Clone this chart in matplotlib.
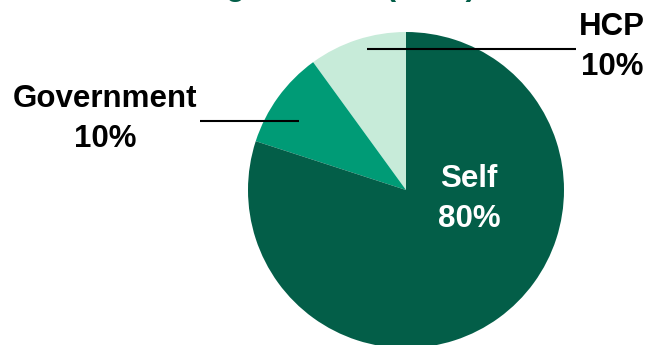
import matplotlib
matplotlib.use("Agg")
import matplotlib.pyplot as plt

# Who covers the cost
payers = ["HCP", "Government", "Self"]
shares = [10, 10, 80]
colors = ["#C7EBD9", "#009B76", "#035E48"]
title = "Funding Sources (2020)"

W, H = 648, 345
fig = plt.figure(figsize=(W / 100, H / 100), dpi=100)
ax = fig.add_axes([0, 0, 1, 1])

# work in pixel-like units, y measured upward
cx, cy, r = 406, H - 190, 158
wedges, _ = ax.pie(shares, colors=colors, startangle=90, counterclock=True,
                   center=(cx, cy), radius=r,
                   wedgeprops=dict(linewidth=0))
ax.set_xlim(0, W)
ax.set_ylim(0, H)
ax.set_aspect("equal")
ax.axis("off")

font = dict(family=["Liberation Sans", "DejaVu Sans"], fontweight="bold",
            fontsize=22.5)

# title sits mostly above the canvas
ax.text(122, H + 5.5, title, color="#035E48", ha="left", va="baseline",
        clip_on=False, **font)

# label placement: (text x, text y, line x0, line x1, line y, color)
layout = {
    "HCP": (612, 47, 367, 576, 49, "black"),
    "Government": (105, 119, 200, 299, 121, "black"),
    "Self": (469, 199, None, None, None, "white"),
}
for name, val in zip(payers, shares):
    tx, ty, lx0, lx1, ly, col = layout[name]
    ax.text(tx, H - ty, f"{name}\n{val}%", ha="center", va="center",
            color=col, linespacing=1.42, **font)
    if lx0 is not None:
        ax.plot([lx0, lx1], [H - ly, H - ly], color="black", lw=1.5,
                solid_capstyle="butt")

fig.savefig("out.png", dpi=100)
